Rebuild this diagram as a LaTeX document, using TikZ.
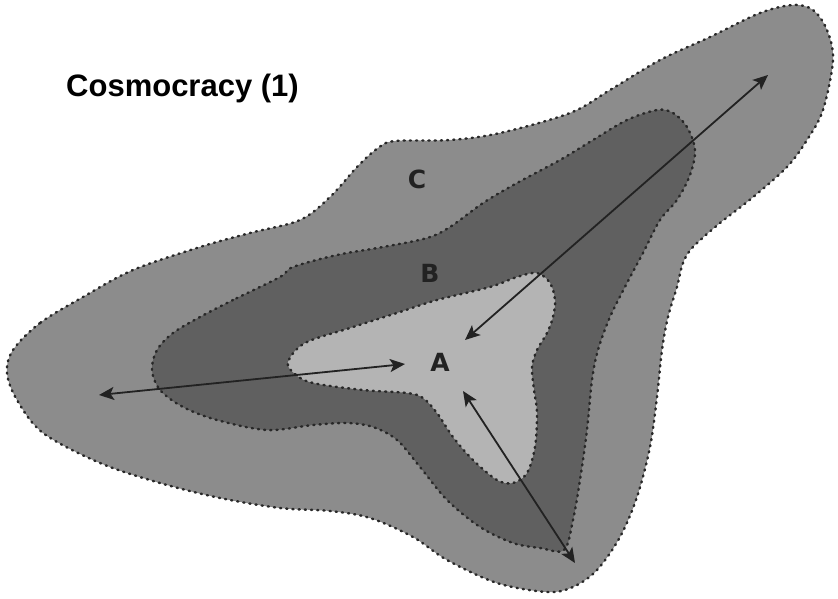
\documentclass[tikz,border=0pt]{standalone}
\usepackage{fontspec}
\setmainfont{Liberation Sans}
\newfontfamily\lblfont{DejaVu Sans}
\usetikzlibrary{arrows.meta}
\definecolor{zoneC}{RGB}{140,140,140}
\definecolor{zoneB}{RGB}{96,96,96}
\definecolor{zoneA}{RGB}{180,180,180}
\definecolor{edgecol}{RGB}{40,40,40}
\definecolor{inkcol}{RGB}{34,34,34}
\tikzset{
  zoneedge/.style={draw=edgecol, line width=2.4pt, line cap=round, dash pattern=on 1.2pt off 5pt},
  reach/.style={draw=inkcol, line width=1.8pt, {Stealth[length=15pt,width=13pt,inset=3.5pt]}-{Stealth[length=15pt,width=13pt,inset=3.5pt]}},
  zonelabel/.style={font=\lblfont\bfseries\fontsize{25}{29}\selectfont, text=inkcol, inner sep=0pt},
  titlelabel/.style={font=\bfseries\fontsize{31}{36}\selectfont, text=black, inner sep=0pt}
}
\begin{document}
\begin{tikzpicture}[x=1pt,y=-1pt]
\useasboundingbox (0,0) rectangle (838,599);
% zone C
\path[fill=zoneC, zoneedge] plot[smooth cycle, tension=0.55] coordinates {
(83,297) (40,323) (13,350) (7,373) (17,400) (43,433) (100,463) (160,483) (220,498) (280,508) (330,511) (370,518) (413,537) (447,560) (497,583) (547,592) (573,587) (597,570) (620,537) (637,497) (650,447) (657,397) (662,350) (668,317) (677,287) (683,263) (693,247) (720,223) (752,198) (787,167) (807,140) (823,110) (833,60) (827,30) (813,10) (793,5) (760,13) (710,37) (660,60) (610,90) (570,113) (500,133) (450,140) (395,141) (378,148) (357,167) (330,197) (300,220) (250,233) (200,247) (133,270)};
% zone B
\path[fill=zoneB, zoneedge] plot[smooth cycle, tension=0.55] coordinates {
(280,277) (233,300) (200,317) (173,333) (157,350) (152,370) (160,390) (183,407) (217,420) (267,430) (313,425) (347,423) (373,427) (397,440) (420,467) (447,500) (480,527) (513,543) (540,548) (564,550) (573,520) (580,480) (587,430) (592,380) (598,350) (610,317) (627,283) (643,253) (660,220) (677,200) (690,175) (695,150) (687,127) (673,113) (657,110) (627,120) (593,140) (560,160) (517,183) (483,203) (450,227) (427,238) (383,247) (337,255) (293,267)};
% zone A
\path[fill=zoneA, zoneedge] plot[smooth cycle, tension=0.55] coordinates {
(288,362) (295,374) (313,383) (363,390) (407,393) (423,398) (437,413) (453,437) (473,460) (497,480) (513,483) (527,473) (535,447) (537,413) (534,390) (532,367) (537,350) (547,333) (553,317) (555,300) (550,283) (537,273) (517,277) (490,287) (437,300) (400,312) (350,328) (305,343)};
% arrow end points
\coordinate (a1) at (465,340);
\coordinate (a2) at (768,75);
\coordinate (b1) at (405,364);
\coordinate (b2) at (99,395);
\coordinate (c1) at (463,391);
\coordinate (c2) at (575,563);
\draw[reach] (a1) -- (a2);
\draw[reach] (b2) -- (b1);
\draw[reach] (c1) -- (c2);
% labels
\node[zonelabel] (lA) at (440,362) {A};
\node[zonelabel] (lB) at (430,273) {B};
\node[zonelabel] (lC) at (417,179) {C};
\node[titlelabel, anchor=base west] (title) at (66,97) {Cosmocracy (1)};
\end{tikzpicture}
\end{document}
